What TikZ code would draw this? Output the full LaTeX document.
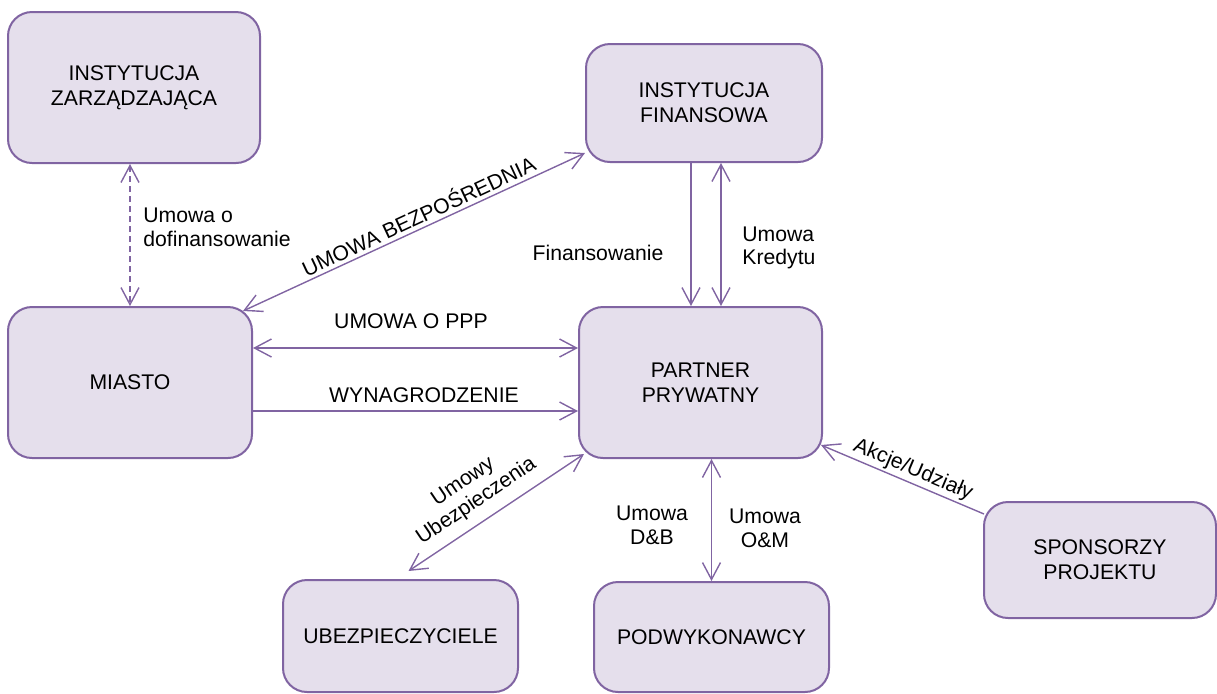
\documentclass[tikz,border=0pt]{standalone}
\usepackage{fontspec}
\setmainfont{Liberation Sans}
\usetikzlibrary{arrows.meta}
\definecolor{boxfill}{HTML}{E5DFEC}
\definecolor{boxline}{HTML}{8064A2}
\begin{document}
\begin{tikzpicture}[x=0.5pt,y=-0.5pt,
  entity/.style={draw=boxline, fill=boxfill, line width=1pt, rounded corners=12pt,
    inner sep=0pt, align=center, font=\fontsize{10.6}{12.5}\selectfont},
  lbl/.style={inner sep=0pt, text=black, font=\fontsize{10.6}{11.8}\selectfont},
  link/.style={draw=boxline, line width=0.7pt,
    >={Straight Barb[length=8.5pt,width=9pt]}}]
\useasboundingbox (0,0) rectangle (1217,693);

% parties of the project
\node[entity, minimum width=126pt, minimum height=75.5pt] (iz) at (134,87.5) {INSTYTUCJA\\ZARZĄDZAJĄCA};
\node[entity, minimum width=118pt, minimum height=59pt] (fin) at (704,103) {INSTYTUCJA\\FINANSOWA};
\node[entity, minimum width=122pt, minimum height=75.5pt] (miasto) at (130,382.5) {MIASTO};
\node[entity, minimum width=121.5pt, minimum height=75.5pt] (pp) at (700.5,382.5) {PARTNER\\PRYWATNY};
\node[entity, minimum width=117.5pt, minimum height=56pt] (ubez) at (400.5,636) {UBEZPIECZYCIELE};
\node[entity, minimum width=117.5pt, minimum height=55pt] (podw) at (711.5,637) {PODWYKONAWCY};
\node[entity, minimum width=116pt, minimum height=58pt] (spons) at (1100,560) {SPONSORZY\\PROJEKTU};

% connector end points
\coordinate (finL) at ([shift={(-13,0)}]fin.south);
\coordinate (finR) at ([shift={(17,0)}]fin.south);
\coordinate (mUp) at ([shift={(0,-34.5)}]miasto.east);
\coordinate (mDn) at ([shift={(0,28.5)}]miasto.east);

% agreements and flows
\draw[link, <->, dash pattern=on 3pt off 2pt] (miasto.north |- iz.south) -- (miasto.north);
\draw[link, <->] ([shift={(-10,5)}]miasto.north east) -- ([shift={(0,-10)}]fin.south west);
\draw[link, ->] (finL) -- (finL |- pp.north);
\draw[link, <->] (finR) -- (finR |- pp.north);
\draw[link, <->] (mUp) -- (mUp -| pp.west);
\draw[link, ->] (mDn) -- (mDn -| pp.west);
\draw[link, <->] ([shift={(6,-5)}]pp.south west) -- ([shift={(8,-8)}]ubez.north);
\draw[link, <->] (podw.north |- pp.south) -- (podw.north);
\draw[link, ->] ([shift={(1,13)}]spons.north west) -- ([shift={(-2,-14)}]pp.south east);

% labels
\node[lbl, anchor=west, align=left] (l1) at (143,227) {Umowa o\\dofinansowanie};
\node[lbl, rotate=25] (l2) at (418,215) {UMOWA BEZPOŚREDNIA};
\node[lbl] (l3) at (598,253) {Finansowanie};
\node[lbl, anchor=west, align=left] (l4) at (742,248) {Umowa\\Kredytu};
\node[lbl] (l5) at (411,321) {UMOWA O PPP};
\node[lbl] (l6) at (424,395) {WYNAGRODZENIE};
\node[lbl, rotate=34, align=center] (l7) at (470,492) {Umowy\\Ubezpieczenia};
\node[lbl, align=center] (l8) at (652,525) {Umowa\\D\&B};
\node[lbl, align=center] (l9) at (765,528) {Umowa\\O\&M};
\node[lbl, rotate=-23] (l10) at (913,470) {Akcje/Udziały};
\end{tikzpicture}
\end{document}
